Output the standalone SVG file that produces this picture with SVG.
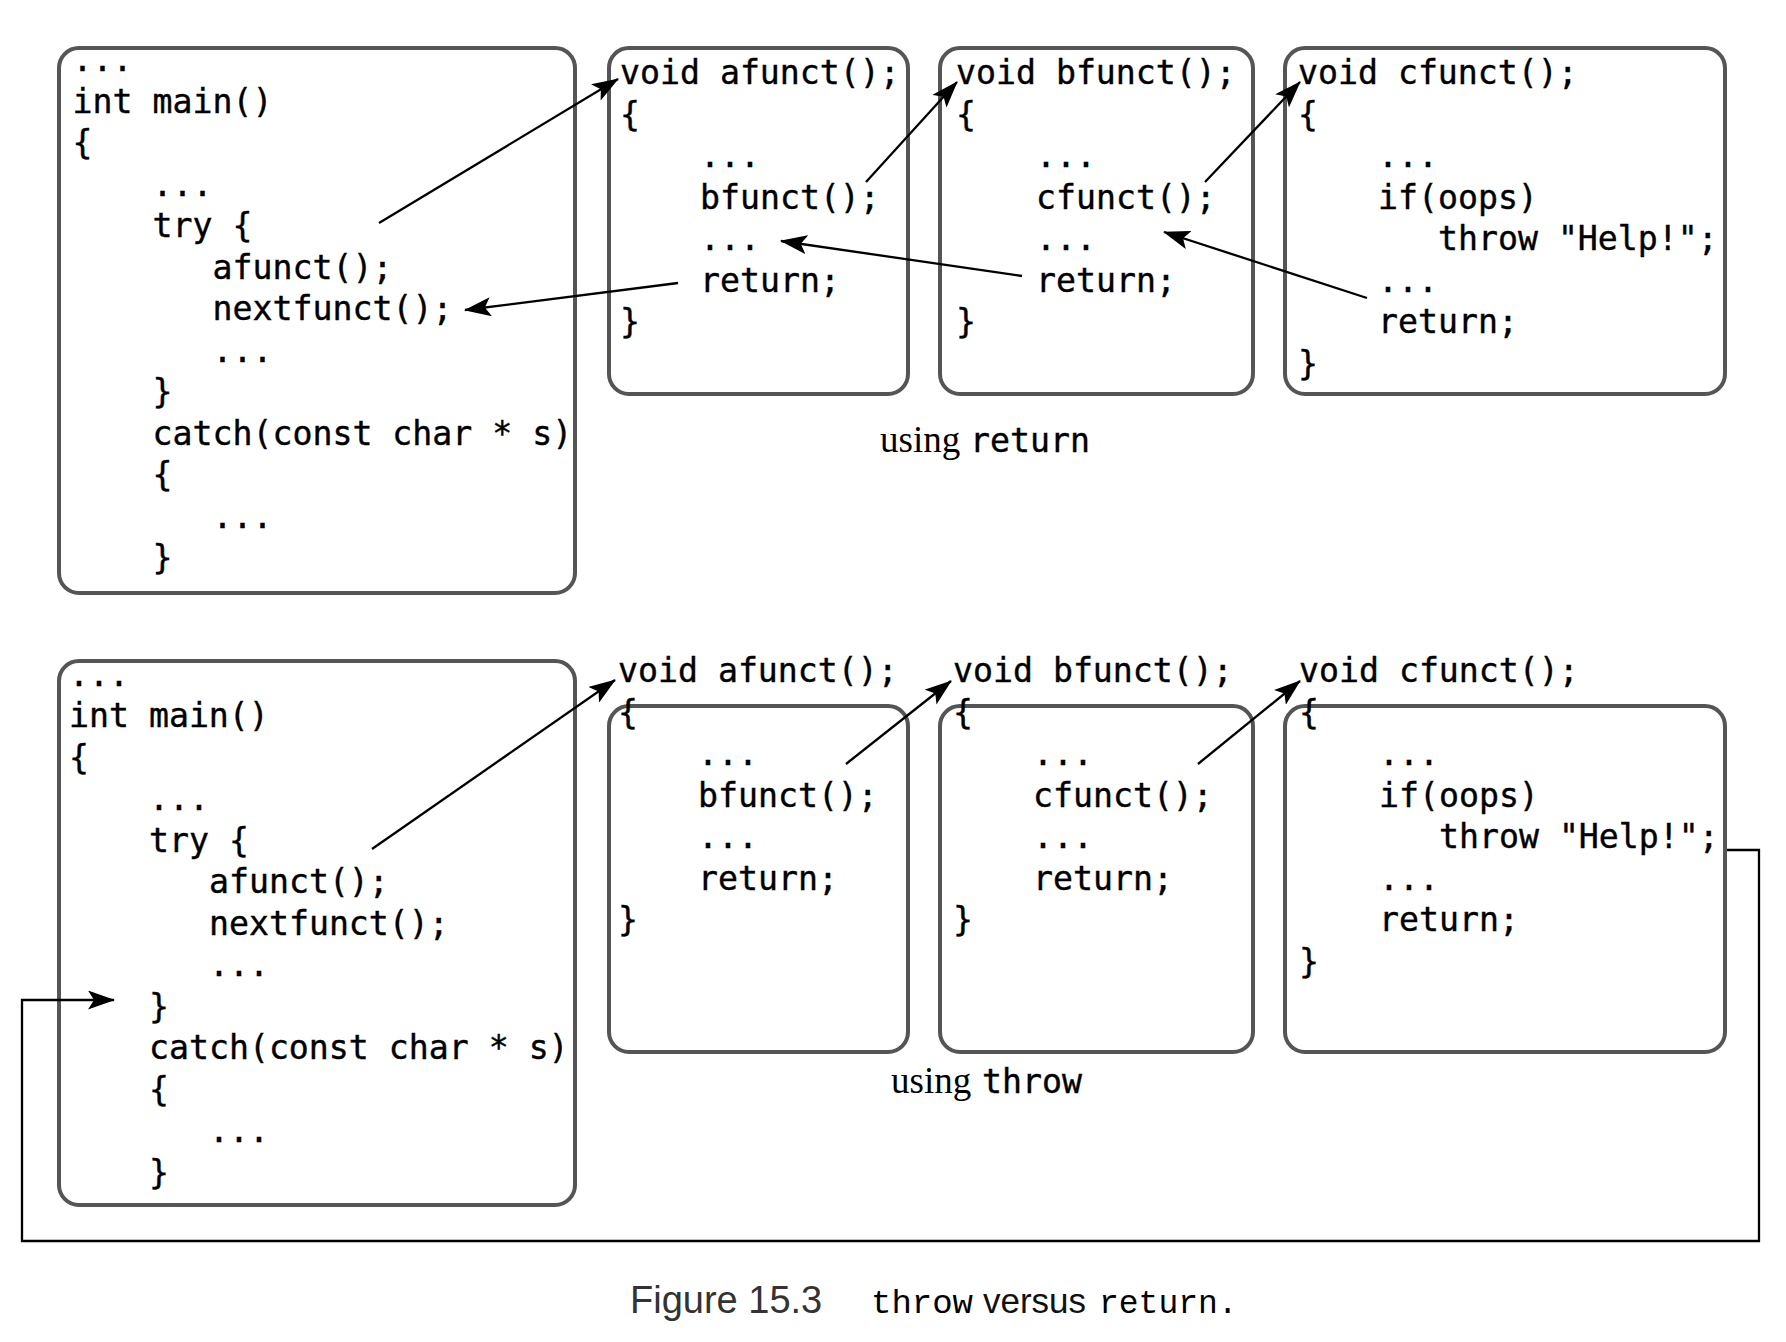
<svg xmlns="http://www.w3.org/2000/svg" width="1786" height="1342" viewBox="0 0 1786 1342">
  <style>
    .box { fill: #ffffff; stroke: #555555; stroke-width: 4; }
    .code { font-family: "DejaVu Sans Mono", "Liberation Mono", monospace; font-size: 33.2px; fill: #000000; stroke: #000000; stroke-width: 0.4; }
    .serif { font-family: "Liberation Serif", "Times New Roman", serif; font-size: 37px; fill: #000000; }
    .conn { fill: none; stroke: #000000; stroke-width: 2.3; }
    .cap-sans { font-family: "Liberation Sans", Arial, sans-serif; }
    .cap-mono { font-family: "Liberation Mono", "Courier New", monospace; }
  </style>
  <defs>
    <marker id="arrow" viewBox="0 0 27 19" markerWidth="27" markerHeight="19" refX="26" refY="9.5" orient="auto" markerUnits="userSpaceOnUse">
      <path d="M0,0 L27,9.5 L0,19 L6,9.5 z" fill="#000000"/>
    </marker>
  </defs>

  <rect width="1786" height="1342" fill="#ffffff"/>

  <!-- ===== upper panel: using return ===== -->
  <g id="main-return">
    <rect class="box" x="59" y="48" width="516" height="545" rx="20"/>
    <text class="code">
      <tspan x="72.6" y="71">...</tspan>
      <tspan x="72.6" y="112.5">int main()</tspan>
      <tspan x="72.6" y="154">{</tspan>
      <tspan x="152.6" y="195.5">...</tspan>
      <tspan x="152.6" y="237">try {</tspan>
      <tspan x="212.6" y="278.5">afunct();</tspan>
      <tspan x="212.6" y="320">nextfunct();</tspan>
      <tspan x="212.6" y="361.5">...</tspan>
      <tspan x="152.6" y="403">}</tspan>
      <tspan x="152.6" y="444.5">catch(const char * s)</tspan>
      <tspan x="152.6" y="486">{</tspan>
      <tspan x="212.6" y="527.5">...</tspan>
      <tspan x="152.6" y="569">}</tspan>
    </text>
  </g>

  <g id="afunct-return">
    <rect class="box" x="609" y="48" width="299" height="346" rx="20"/>
    <text class="code">
      <tspan x="620" y="84">void afunct();</tspan>
      <tspan x="620" y="125.5">{</tspan>
      <tspan x="700" y="167">...</tspan>
      <tspan x="700" y="208.5">bfunct();</tspan>
      <tspan x="700" y="250">...</tspan>
      <tspan x="700" y="291.5">return;</tspan>
      <tspan x="620" y="333">}</tspan>
    </text>
  </g>

  <g id="bfunct-return">
    <rect class="box" x="940" y="48" width="313" height="346" rx="20"/>
    <text class="code">
      <tspan x="956" y="84">void bfunct();</tspan>
      <tspan x="956" y="125.5">{</tspan>
      <tspan x="1036" y="167">...</tspan>
      <tspan x="1036" y="208.5">cfunct();</tspan>
      <tspan x="1036" y="250">...</tspan>
      <tspan x="1036" y="291.5">return;</tspan>
      <tspan x="956" y="333">}</tspan>
    </text>
  </g>

  <g id="cfunct-return">
    <rect class="box" x="1285" y="48" width="440" height="346" rx="20"/>
    <text class="code">
      <tspan x="1298" y="84">void cfunct();</tspan>
      <tspan x="1298" y="125.5">{</tspan>
      <tspan x="1378" y="167">...</tspan>
      <tspan x="1378" y="208.5">if(oops)</tspan>
      <tspan x="1438" y="250">throw "Help!";</tspan>
      <tspan x="1378" y="291.5">...</tspan>
      <tspan x="1378" y="333">return;</tspan>
      <tspan x="1298" y="374.5">}</tspan>
    </text>
  </g>

  <g id="label-return">
    <text class="serif" x="880" y="452">using</text>
    <text class="code" x="970" y="452">return</text>
  </g>

  <!-- ===== lower panel: using throw ===== -->
  <g id="main-throw">
    <rect class="box" x="59" y="661" width="516" height="544" rx="20"/>
    <text class="code">
      <tspan x="69" y="685.5">...</tspan>
      <tspan x="69" y="727">int main()</tspan>
      <tspan x="69" y="768.5">{</tspan>
      <tspan x="149" y="810">...</tspan>
      <tspan x="149" y="851.5">try {</tspan>
      <tspan x="209" y="893">afunct();</tspan>
      <tspan x="209" y="934.5">nextfunct();</tspan>
      <tspan x="209" y="976">...</tspan>
      <tspan x="149" y="1017.5">}</tspan>
      <tspan x="149" y="1059">catch(const char * s)</tspan>
      <tspan x="149" y="1100.5">{</tspan>
      <tspan x="209" y="1142">...</tspan>
      <tspan x="149" y="1183.5">}</tspan>
    </text>
  </g>

  <g id="afunct-throw">
    <rect class="box" x="609" y="706" width="299" height="346" rx="20"/>
    <text class="code">
      <tspan x="618" y="682">void afunct();</tspan>
      <tspan x="618" y="723.5">{</tspan>
      <tspan x="698" y="765">...</tspan>
      <tspan x="698" y="806.5">bfunct();</tspan>
      <tspan x="698" y="848">...</tspan>
      <tspan x="698" y="889.5">return;</tspan>
      <tspan x="618" y="931">}</tspan>
    </text>
  </g>

  <g id="bfunct-throw">
    <rect class="box" x="940" y="706" width="313" height="346" rx="20"/>
    <text class="code">
      <tspan x="953" y="682">void bfunct();</tspan>
      <tspan x="953" y="723.5">{</tspan>
      <tspan x="1033" y="765">...</tspan>
      <tspan x="1033" y="806.5">cfunct();</tspan>
      <tspan x="1033" y="848">...</tspan>
      <tspan x="1033" y="889.5">return;</tspan>
      <tspan x="953" y="931">}</tspan>
    </text>
  </g>

  <g id="cfunct-throw">
    <rect class="box" x="1285" y="706" width="440" height="346" rx="20"/>
    <text class="code">
      <tspan x="1299" y="682">void cfunct();</tspan>
      <tspan x="1299" y="723.5">{</tspan>
      <tspan x="1379" y="765">...</tspan>
      <tspan x="1379" y="806.5">if(oops)</tspan>
      <tspan x="1439" y="848">throw "Help!";</tspan>
      <tspan x="1379" y="889.5">...</tspan>
      <tspan x="1379" y="931">return;</tspan>
      <tspan x="1299" y="972.5">}</tspan>
    </text>
  </g>

  <g id="label-throw">
    <text class="serif" x="891" y="1093">using</text>
    <text class="code" x="982" y="1093">throw</text>
  </g>

  <!-- ===== connectors ===== -->
  <g id="connectors">
    <!-- upper panel: calls -->
    <line class="conn" x1="379" y1="223" x2="618" y2="79" marker-end="url(#arrow)"/>
    <line class="conn" x1="866" y1="182" x2="957" y2="82" marker-end="url(#arrow)"/>
    <line class="conn" x1="1205" y1="182" x2="1300" y2="82" marker-end="url(#arrow)"/>
    <!-- upper panel: returns -->
    <line class="conn" x1="1367" y1="298" x2="1164" y2="232" marker-end="url(#arrow)"/>
    <line class="conn" x1="1022" y1="276" x2="781" y2="241" marker-end="url(#arrow)"/>
    <line class="conn" x1="678" y1="283" x2="465" y2="310" marker-end="url(#arrow)"/>
    <!-- lower panel: calls -->
    <line class="conn" x1="372" y1="849" x2="615" y2="680" marker-end="url(#arrow)"/>
    <line class="conn" x1="846" y1="764" x2="951" y2="681" marker-end="url(#arrow)"/>
    <line class="conn" x1="1198" y1="764" x2="1300" y2="681" marker-end="url(#arrow)"/>
    <!-- lower panel: throw jumps back to the catch -->
    <polyline class="conn" points="1727,850 1759,850 1759,1241 22,1241 22,1000 114,1000" marker-end="url(#arrow)"/>
  </g>

  <!-- ===== figure caption ===== -->
  <g id="caption">
    <text class="cap-sans" x="630" y="1313" font-size="38" fill="#333333">Figure 15.3</text>
    <text class="cap-mono" x="871" y="1313" font-size="34" fill="#000000">throw</text>
    <text class="cap-sans" x="983" y="1313" font-size="35" fill="#111111">versus</text>
    <text class="cap-mono" x="1099" y="1313" font-size="33" fill="#000000">return.</text>
  </g>
</svg>
